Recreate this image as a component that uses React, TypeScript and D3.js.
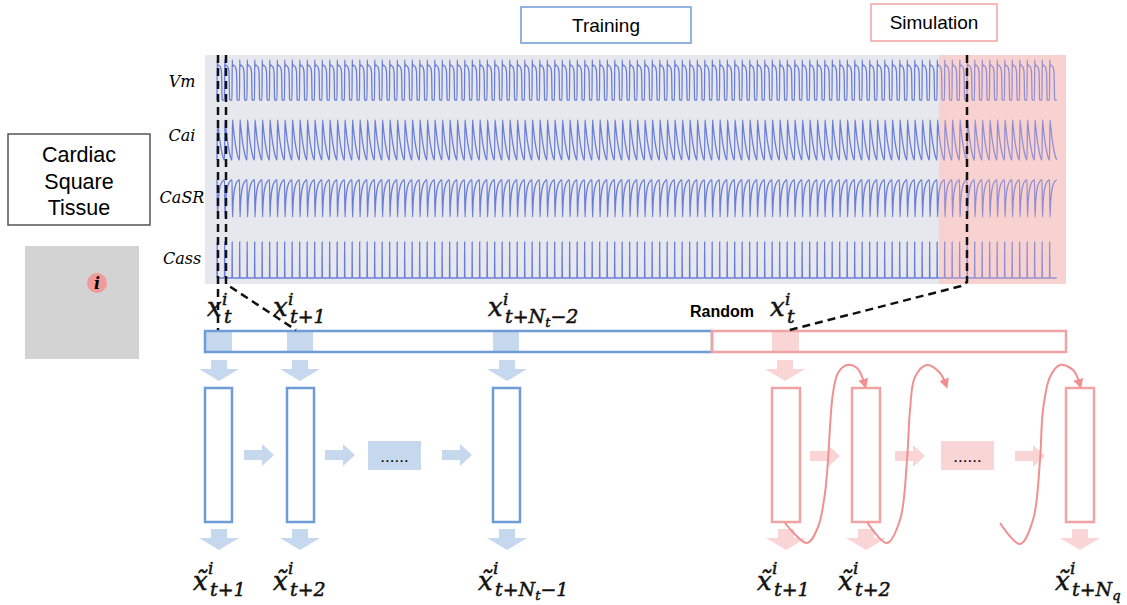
import React from "react";
import * as d3 from "d3";

// trace names shown on the left of the strip chart
const signalNames = ["Vm", "Cai", "CaSR", "Cass"];
const beatCount = 112;

// one beat of each trace: [phase within beat, normalised level]
const vmBeat: [number, number][] = [
  [0, 0], [0.03, 1], [0.08, 0.82], [0.12, 0.88], [0.3, 0.86], [0.5, 0.8],
  [0.6, 0.7], [0.65, 0.3], [0.68, 0.02], [0.72, 0], [0.97, 0],
];
const caiBeat: [number, number][] = [
  [0, 0], [0.07, 1], [0.15, 0.86], [0.3, 0.6], [0.5, 0.34], [0.7, 0.15], [0.85, 0.05], [0.97, 0],
];
const casrBeat: [number, number][] = [
  [0, 1], [0.07, 0], [0.15, 0.38], [0.3, 0.7], [0.5, 0.88], [0.75, 0.97], [0.97, 1],
];
const cassBeat: [number, number][] = [
  [0, 0], [0.02, 1], [0.05, 0.08], [0.09, 0], [0.97, 0],
];
const beats = [vmBeat, caiBeat, casrBeat, cassBeat];

const W = 1127;
const H = 605;
const plot = { left: 205, right: 1066, top: 55, bottom: 284, simStart: 939 };
const rowBands = [[60, 100], [120, 160], [180, 217], [242, 278]];
const labelBaselines = [87, 141, 203, 264];
const traceX = d3.scaleLinear().domain([0, beatCount]).range([217, 1057]);

const blue = "#6f9bd6";
const blueLight = "#c5d8ee";
const pink = "#f1a3a3";
const pinkLight = "#f9d5d5";
const traceColor = "#6b7fd7";

function tracePath(beat: [number, number][], band: number[]) {
  const y = d3.scaleLinear().domain([0, 1]).range([band[1], band[0]]);
  const pts: [number, number][] = [];
  for (let b = 0; b < beatCount; b++) beat.forEach(([p, v]) => pts.push([b + p, v]));
  return d3.line<[number, number]>().x((d) => traceX(d[0])).y((d) => y(d[1])).curve(d3.curveMonotoneX)(pts) || "";
}

function downArrow(cx: number, top: number) {
  return `M${cx - 8},${top} H${cx + 8} V${top + 9} H${cx + 20} L${cx},${top + 21} L${cx - 20},${top + 9} H${cx - 8} Z`;
}
function rightArrow(x: number, cy: number) {
  return `M${x},${cy - 5} H${x + 18} V${cy - 11} L${x + 30},${cy} L${x + 18},${cy + 11} V${cy + 5} H${x} Z`;
}

type Seg = { t: string; small?: boolean };
// x with superscript i and a subscript, all in one text element
const MathLabel = ({ x, y, tilde, sub }: { x: number; y: number; tilde?: boolean; sub: Seg[] }) => {
  const supDy = tilde ? -16 : -11;
  const subDy = tilde ? 22 : 18;
  return (
    <text x={x} y={y} fontFamily="DejaVu Serif" fontStyle="italic" fill="#111" stroke="#111" strokeWidth={0.5}>
      <tspan fontSize={26}>{tilde ? "x\u0303" : "x"}</tspan>
      <tspan x={x + 15} dy={supDy} fontSize={17}>i</tspan>
      {sub.map((s, k) => (
        <tspan
          key={k}
          x={k === 0 ? x + 17 : undefined}
          fontSize={s.small ? 13 : 19}
          dy={k === 0 ? subDy : s.small ? 4 : sub[k - 1].small ? -4 : 0}
        >
          {s.t}
        </tspan>
      ))}
    </text>
  );
};

const curvePts: [number, number][][] = [
  [[785, 523], [807, 543], [818, 527], [825, 493], [828, 460], [830, 427], [833, 393], [838, 373], [847, 365], [857, 368], [865, 385]],
  [[867, 522], [887, 543], [900, 520], [907, 460], [910, 410], [915, 377], [927, 365], [940, 373], [946, 385]],
  [[1000, 523], [1020, 544], [1033, 520], [1040, 460], [1043, 410], [1050, 377], [1060, 365], [1073, 370], [1080, 385]],
];
const curveLine = d3.line().curve(d3.curveCatmullRom.alpha(0.5));

export default function App() {
  const blueBoxes = [205, 287, 493];
  const pinkBoxes = [772, 852, 1066];
  return (
    <svg width={W} height={H} style={{ position: "absolute", left: 0, top: 0, background: "#fff" }}>
      <defs>
        <marker id="ah" viewBox="0 0 10 10" refX="6" refY="5" markerWidth="5" markerHeight="5" orient="auto">
          <path d="M0,0 L10,5 L0,10 Z" fill="#f09090" />
        </marker>
      </defs>

      {/* top labels */}
      <rect x={521} y={7} width={170} height={36} fill="#fff" stroke={blue} strokeWidth={1.5} />
      <text x={606} y={32} fontSize={19} fontFamily="Liberation Sans" textAnchor="middle">Training</text>
      <rect x={871} y={4} width={126} height={37} fill="#fff" stroke={pink} strokeWidth={1.5} />
      <text x={934} y={29} fontSize={19} fontFamily="Liberation Sans" textAnchor="middle">Simulation</text>

      {/* tissue */}
      <rect x={8} y={134} width={142} height={91} fill="#fff" stroke="#555" strokeWidth={1.5} />
      {["Cardiac", "Square", "Tissue"].map((t, i) => (
        <text key={t} x={79} y={162 + i * 26.5} fontSize={21.5} fontFamily="Liberation Sans" textAnchor="middle">{t}</text>
      ))}
      <rect x={25} y={246} width={114} height={113} fill="#d3d3d3" />
      <circle cx={97} cy={283} r={10} fill="#f19a9a" />
      <text x={97} y={289} fontSize={16} fontWeight="bold" fontStyle="italic" fontFamily="DejaVu Serif" textAnchor="middle">i</text>

      {/* strip chart */}
      <rect x={plot.left} y={plot.top} width={plot.right - plot.left} height={plot.bottom - plot.top} fill="#e7e8ee" />
      <rect x={plot.simStart} y={plot.top} width={plot.right - plot.simStart} height={plot.bottom - plot.top} fill="#fadcdc" />
      {beats.map((b, i) => (
        <path key={i} d={tracePath(b, rowBands[i])} fill="none" stroke={traceColor} strokeWidth={1.3} />
      ))}
      <rect x={plot.simStart} y={plot.top} width={plot.right - plot.simStart} height={plot.bottom - plot.top} fill="#f6b8b8" opacity={0.3} />
      {signalNames.map((n, i) => (
        <text key={n} x={182} y={labelBaselines[i]} fontSize={16} fontStyle="italic" fontFamily="DejaVu Serif" textAnchor="middle">{n}</text>
      ))}

      {/* input bar */}
      {[206, 287, 493].map((x) => <rect key={x} x={x} y={332} width={26} height={19} fill={blueLight} />)}
      <rect x={772} y={332} width={27} height={19} fill={pinkLight} />
      <rect x={205} y={331} width={507} height={21} fill="none" stroke={blue} strokeWidth={2.5} />
      <rect x={712} y={331} width={354} height={21} fill="none" stroke={pink} strokeWidth={2.5} />

      {/* dashed guides */}
      <g fill="none" stroke="#111" strokeWidth={2.5} strokeDasharray="8,5">
        <path d="M218,55 V330" />
        <path d="M226,55 V284 L296,330" />
        <path d="M967,55 V282 L961,286 L786,331" />
      </g>

      {/* top labels of the bar */}
      <MathLabel x={207} y={316} sub={[{ t: "t" }]} />
      <MathLabel x={273} y={316} sub={[{ t: "t+1" }]} />
      <MathLabel x={488} y={316} sub={[{ t: "t+N" }, { t: "t", small: true }, { t: "\u22122" }]} />
      <text x={690} y={317} fontSize={16} fontWeight="bold" fontFamily="Liberation Sans">Random</text>
      <MathLabel x={770} y={316} sub={[{ t: "t" }]} />

      {/* training column */}
      {[219, 300, 507].map((cx) => <path key={"a" + cx} d={downArrow(cx, 360)} fill={blueLight} />)}
      {blueBoxes.map((x) => <rect key={x} x={x} y={388} width={27} height={134} fill="none" stroke={blue} strokeWidth={2.5} />)}
      {[244, 325, 442].map((x) => <path key={"h" + x} d={rightArrow(x, 455)} fill={blueLight} />)}
      <rect x={368} y={441} width={53} height={29} fill={blueLight} />
      <text x={394.5} y={462} fontSize={17} fontFamily="Liberation Sans" textAnchor="middle">......</text>
      {[219, 300, 507].map((cx) => <path key={"b" + cx} d={downArrow(cx, 529)} fill={blueLight} />)}

      {/* simulation column */}
      {[785].map((cx) => <path key={"pa" + cx} d={downArrow(cx, 360)} fill={pinkLight} />)}
      {pinkBoxes.map((x) => <rect key={x} x={x} y={388} width={28} height={134} fill="none" stroke={pink} strokeWidth={2.5} />)}
      {[810, 895, 1015].map((x) => <path key={"ph" + x} d={rightArrow(x, 456)} fill={pinkLight} />)}
      <rect x={941} y={441} width={53} height={29} fill={pinkLight} />
      <text x={967.5} y={462} fontSize={17} fontFamily="Liberation Sans" textAnchor="middle">......</text>
      {[786, 866, 1080].map((cx) => <path key={"pb" + cx} d={downArrow(cx, 529)} fill={pinkLight} />)}
      {curvePts.map((p, i) => (
        <path key={i} d={curveLine(p) || ""} fill="none" stroke="#f09090" strokeWidth={2} markerEnd="url(#ah)" />
      ))}

      {/* outputs */}
      <MathLabel x={193} y={590} tilde sub={[{ t: "t+1" }]} />
      <MathLabel x={273} y={590} tilde sub={[{ t: "t+2" }]} />
      <MathLabel x={478} y={590} tilde sub={[{ t: "t+N" }, { t: "t", small: true }, { t: "\u22121" }]} />
      <MathLabel x={757} y={590} tilde sub={[{ t: "t+1" }]} />
      <MathLabel x={838} y={590} tilde sub={[{ t: "t+2" }]} />
      <MathLabel x={1055} y={590} tilde sub={[{ t: "t+N" }, { t: "q", small: true }]} />
    </svg>
  );
}
